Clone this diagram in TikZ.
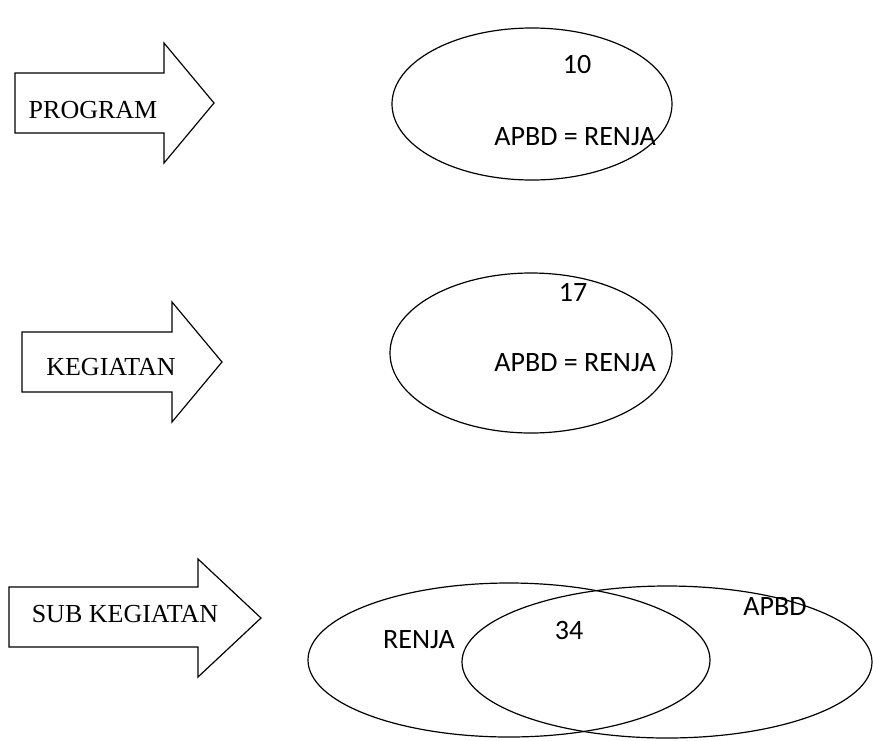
\documentclass[tikz,border=0pt]{standalone}
\usepackage{fontspec}
\setmainfont{Liberation Serif}
\newfontfamily\bodysans{Carlito}
\usetikzlibrary{shapes.geometric}
\begin{document}
\begin{tikzpicture}[x=1pt,y=-1pt,
  outline/.style={draw=black,line width=1.2pt,line join=miter},
  setoval/.style={outline,ellipse,inner sep=0pt},
  tag/.style={font=\fontsize{26}{30}\selectfont,inner sep=0pt},
  count/.style={font=\bodysans\fontsize{28}{32}\selectfont,inner sep=0pt}]
\useasboundingbox (0,0) rectangle (873,740);

% block arrows on the left
\draw[outline] (15,73) -- (164,73) -- (164,43) -- (214,103) -- (164,163) -- (164,133) -- (15,133) -- cycle;
\draw[outline] (22,332) -- (172,332) -- (172,302) -- (222,362) -- (172,422) -- (172,392) -- (22,392) -- cycle;
\draw[outline] (9,587) -- (198,587) -- (198,559) -- (261,618) -- (198,677) -- (198,647) -- (9,647) -- cycle;
\node[tag] (program) at (93,110) {PROGRAM};
\node[tag] (kegiatan) at (111,367) {KEGIATAN};
\node[tag] (subkeg) at (125,614) {SUB KEGIATAN};

% program level
\node[setoval,minimum width=280pt,minimum height=152pt] (e1) at (532,104) {};
\node[count] (n10) at (577,65) {10};
\node[count] (eq1) at (575,137) {APBD = RENJA};

% kegiatan level
\node[setoval,minimum width=282pt,minimum height=160pt] (e2) at (531,353) {};
\node[count] (n17) at (573,292) {17};
\node[count] (eq2) at (575,363) {APBD = RENJA};

% sub kegiatan level: overlapping sets
\node[setoval,minimum width=402pt,minimum height=154pt] (renja) at (509,660) {};
\node[setoval,minimum width=410pt,minimum height=152pt] (apbd) at (667,662) {};
\node[count] (lrenja) at (419,640) {RENJA};
\node[count] (n34) at (569,630) {34};
\node[count] (lapbd) at (775,607) {APBD};
\end{tikzpicture}
\end{document}
